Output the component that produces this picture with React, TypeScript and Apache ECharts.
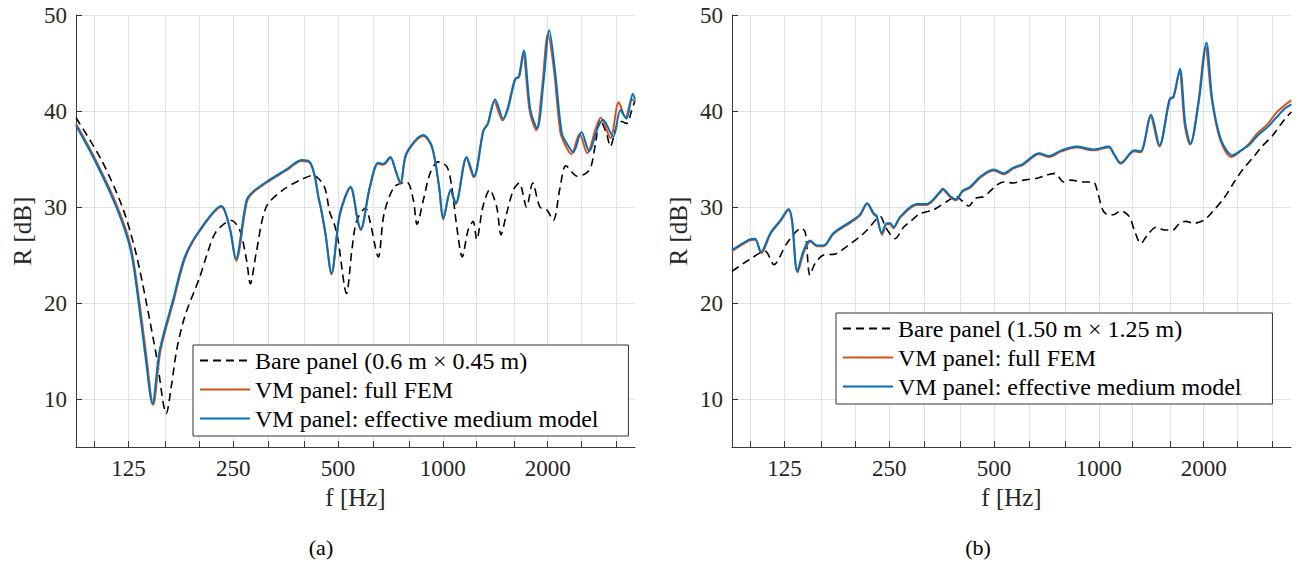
import React, { useEffect, useRef } from 'react';
import * as echarts from 'echarts';

const FONT = "'Liberation Serif', 'Times New Roman', serif";

// third-octave tick positions and labelled ticks (Hz)
const thirdOctaveTicks = [100, 125, 160, 200, 250, 315, 400, 500, 630, 800, 1000, 1250, 1600, 2000, 2500, 3150];
const xTickLabels = [125, 250, 500, 1000, 2000];
const yTicks = [10, 20, 30, 40, 50];

const nameBareA = 'Bare panel (0.6 m × 0.45 m)';
const nameBareB = 'Bare panel (1.50 m × 1.25 m)';
const nameFem = 'VM panel: full FEM';
const nameEm = 'VM panel: effective medium model';

// Panel (a): [frequency Hz, R dB]
const a_bare: [number, number][] = [[88.4,39.3],[104.6,34.9],[120.1,30.0],[130.8,25.5],[140.3,20.3],[150.6,14.4],[160.6,8.5],[166.5,11.6],[172,15.1],[181.5,18.6],[200.4,22.7],[210,25.0],[223,27.4],[247,28.6],[261,27.6],[273,24.5],[280,22.0],[291,25.2],[311,30.0],[348,31.8],[389,32.8],[424,33.3],[457,32.1],[473,29.5],[489,28.1],[500,26.6],[529,21.0],[548,25.5],[566,28.6],[600,29.9],[617,28.6],[653,24.8],[678,29.3],[726,32.1],[788,32.6],[823,30.7],[843,28.2],[879,30.7],[919,33.5],[969,34.7],[1027,34.2],[1061,32.1],[1097,27.9],[1137,24.8],[1182,27.6],[1222,28.5],[1251,26.6],[1303,30.0],[1363,31.8],[1428,30.0],[1469,27.1],[1524,29.3],[1595,31.8],[1657,32.5],[1740,30.0],[1812,32.5],[1900,30.0],[1989,29.7],[2076,28.6],[2173,32.1],[2256,34.3],[2434,33.2],[2576,33.5],[2665,34.2],[2755,37.0],[2826,39.1],[2950,37.7],[3027,36.3],[3154,38.4],[3262,38.9],[3374,38.7],[3489,40.1],[3564,41.1]];

const a_fem: [number, number][] = [[88.4,38.7],[100,35.1],[115.4,30.3],[126.9,25.9],[135,19.6],[140.3,14.9],[147.3,9.4],[154.5,15.0],[168.5,20.2],[182,24.7],[200.4,27.5],[231,30.0],[244.5,27.8],[255,24.4],[273.5,30.5],[285,31.5],[311,32.5],[355,33.8],[393,34.8],[415,34.6],[429,33.1],[439,31.0],[446,29.9],[460,27.2],[479,23.0],[506,29.1],[543,32.0],[570,28.5],[581,27.6],[617,32.0],[652,34.5],[675,34.4],[707,35.1],[731,33.8],[756,32.4],[786,35.5],[879,37.4],[931,36.2],[976,32.0],[1002,28.7],[1053,31.7],[1088,30.3],[1168,35.1],[1226,33.1],[1305,37.9],[1344,38.6],[1405,41.0],[1485,39.0],[1532,40.2],[1610,43.3],[1650,43.5],[1700,46.0],[1776,40.0],[1855,38.0],[1930,42.6],[2003,48.0],[2082,44.5],[2175,37.8],[2250,36.4],[2339,35.5],[2470,37.6],[2600,35.6],[2745,38.1],[2840,39.3],[3030,37.2],[3200,40.9],[3350,39.3],[3490,41.2],[3564,41.0]];

const a_em: [number, number][] = [[88.4,38.5],[100,34.9],[115.4,30.0],[126.9,25.5],[135,18.9],[140.3,14.1],[146.5,9.5],[153.8,15.1],[167.9,20.3],[181.5,24.8],[200.4,27.6],[231,30.1],[244,27.9],[254.5,24.6],[273,30.7],[285,31.6],[311,32.6],[355,33.9],[393,34.9],[415,34.7],[429,33.2],[439,31.1],[446,30.0],[460,27.3],[479,23.1],[506,29.3],[543,32.1],[570,28.6],[581,27.7],[617,32.1],[652,34.6],[675,34.5],[707,35.2],[731,33.9],[756,32.5],[786,35.6],[879,37.5],[931,36.3],[976,32.1],[1004,28.8],[1053,31.8],[1090,30.4],[1171,35.2],[1230,33.2],[1309,38.0],[1348,38.7],[1413,41.2],[1492,39.2],[1540,40.3],[1617,43.4],[1658,43.6],[1708,46.3],[1784,40.1],[1867,38.2],[1945,42.9],[2021,48.4],[2098,44.3],[2196,37.7],[2272,36.6],[2370,35.7],[2500,37.8],[2633,35.8],[2782,38.2],[2884,39.1],[3085,37.3],[3236,40.1],[3366,39.2],[3513,41.8],[3564,41.2]];

// Panel (b)
const b_bare: [number, number][] = [[88.4,23.3],[99,24.5],[110,25.4],[116.6,24.0],[127,26.2],[140,27.8],[143.6,27.3],[148,22.9],[153,24.1],[162,25.0],[175,25.1],[189,25.9],[206,26.9],[216,27.6],[236,29.0],[244,27.9],[260,26.7],[275,27.9],[288,28.5],[306,29.3],[335,29.7],[367,30.6],[389,31.1],[406,30.6],[423,30.1],[442,30.9],[468,31.1],[510,32.3],[533,32.6],[568,32.5],[608,32.8],[664,33.0],[704,33.3],[748,33.5],[793,32.6],[831,32.8],[904,32.6],[965,32.6],[988,31.8],[1026,29.7],[1062,29.2],[1103,29.2],[1156,29.6],[1224,29.0],[1264,27.6],[1320,26.2],[1380,27.1],[1461,27.9],[1544,27.6],[1630,27.6],[1705,28.3],[1781,28.5],[1864,28.3],[2000,28.6],[2119,29.5],[2285,30.9],[2448,32.6],[2591,33.9],[2808,35.4],[2939,36.3],[3148,37.4],[3410,39.1],[3572,39.9]];

const b_fem: [number, number][] = [[88.4,25.4],[99,26.5],[103,26.6],[107.5,25.2],[114,27.2],[121.7,28.5],[128.6,29.7],[131.5,28.5],[136.5,23.2],[142.5,25.4],[148.5,26.4],[155,25.9],[162,25.9],[173,27.2],[194,28.4],[206,29.1],[216,30.3],[226,29.2],[230,29.0],[238.5,27.1],[246,28.2],[252,28.2],[257,27.8],[269,28.9],[300,30.2],[320,30.2],[350,31.5],[356,31.8],[375,31.0],[389,30.7],[406,31.6],[427,32.0],[458,33.1],[499,33.8],[533,33.4],[568,34.0],[606,34.4],[673,35.5],[720,35.2],[781,35.8],[863,36.2],[965,35.9],[1069,36.2],[1103,35.5],[1156,34.5],[1264,35.8],[1318,35.7],[1408,39.4],[1490,36.3],[1595,41.2],[1636,41.4],[1703,44.1],[1765,38.5],[1828,36.5],[1930,40.9],[2025,46.7],[2108,41.3],[2232,37.0],[2400,35.2],[2550,35.8],[2700,36.6],[2855,37.7],[3050,38.6],[3230,39.8],[3420,40.6],[3572,41.1]];

const b_em: [number, number][] = [[88.4,25.5],[99,26.6],[103,26.7],[107,25.3],[114,27.3],[121.7,28.6],[128.6,29.8],[131.5,28.6],[136,23.3],[142,25.5],[148,26.5],[155,26.0],[162,26.0],[173,27.3],[194,28.5],[206,29.2],[216,30.4],[226,29.3],[230,29.1],[238,27.3],[246,28.3],[252,28.3],[257,27.9],[269,29.0],[300,30.3],[320,30.3],[350,31.6],[356,31.9],[375,31.1],[389,30.8],[406,31.7],[427,32.1],[458,33.2],[499,33.9],[533,33.5],[568,34.1],[606,34.5],[673,35.6],[720,35.3],[781,35.9],[863,36.3],[965,36.0],[1069,36.3],[1103,35.6],[1156,34.6],[1264,35.9],[1318,35.8],[1413,39.6],[1495,36.4],[1601,41.3],[1641,41.5],[1710,44.4],[1771,38.7],[1834,36.6],[1939,41.1],[2038,47.1],[2119,41.1],[2244,37.0],[2420,35.4],[2562,35.9],[2711,36.5],[2868,37.5],[3070,38.4],[3249,39.4],[3438,40.3],[3572,40.7]];

const AXIS_COLOR = '#3a3a3a';
const TEXT_COLOR = '#262626';
const GRID_COLOR = '#e2e2e2';

function makeX(gridIndex: number) {
  return {
    type: 'log', logBase: 10, gridIndex, min: 88.4, max: 3564,
    name: 'f [Hz]', nameLocation: 'middle', nameGap: 35,
    nameTextStyle: { fontFamily: FONT, fontSize: 25, color: TEXT_COLOR },
    axisLine: { show: true, onZero: false, lineStyle: { color: AXIS_COLOR, width: 1 } },
    axisTick: { show: true, inside: true, length: 6, customValues: thirdOctaveTicks, lineStyle: { color: AXIS_COLOR } },
    axisLabel: {
      show: true, customValues: xTickLabels, margin: 10, fontFamily: FONT, fontSize: 23, color: TEXT_COLOR,
      formatter: (v: number) => String(Math.round(v)),
    },
    splitLine: { show: true, lineStyle: { color: GRID_COLOR, width: 1 } },
    minorTick: { show: false }, minorSplitLine: { show: false },
  };
}

function makeY(gridIndex: number) {
  return {
    type: 'value', gridIndex, min: 5, max: 50,
    name: 'R [dB]', nameLocation: 'middle', nameGap: 41,
    nameTextStyle: { fontFamily: FONT, fontSize: 25, color: TEXT_COLOR },
    axisLine: { show: true, onZero: false, lineStyle: { color: AXIS_COLOR, width: 1 } },
    axisTick: { show: true, inside: true, length: 6, customValues: yTicks, lineStyle: { color: AXIS_COLOR } },
    axisLabel: { show: true, customValues: yTicks, margin: 9, fontFamily: FONT, fontSize: 23, color: TEXT_COLOR },
    splitLine: { show: true, lineStyle: { color: GRID_COLOR, width: 1 } },
  };
}

function line(name: string, data: [number, number][], idx: number, color: string, width: number, dashed: boolean, z: number) {
  return {
    type: 'line', name, data, xAxisIndex: idx, yAxisIndex: idx,
    symbol: 'none', smooth: 0.3, z,
    itemStyle: { color },
    lineStyle: { color, width, type: dashed ? [8, 5] : 'solid' },
    emphasis: { disabled: true },
  };
}

function makeLegend(names: string[], left: number, top: number, rightPad: number) {
  return {
    orient: 'vertical', left, top, itemWidth: 50, itemHeight: 14, itemGap: 0,
    padding: [1, rightPad, 3, 6],
    backgroundColor: '#ffffff', borderColor: '#333333', borderWidth: 1, borderRadius: 0,
    data: names, selectedMode: false,
    itemStyle: { opacity: 0 },
    textStyle: { fontFamily: FONT, fontSize: 24, color: '#000', lineHeight: 29 },
  };
}

const BLACK = '#000000';
const ORANGE = '#D95319';
const BLUE = '#0072BD';

const option = {
  animation: false,
  backgroundColor: '#ffffff',
  textStyle: { fontFamily: FONT },
  grid: [
    { left: 76, top: 15, width: 559, height: 432 },
    { left: 732, top: 15, width: 559, height: 432 },
  ],
  xAxis: [makeX(0), makeX(1)],
  yAxis: [makeY(0), makeY(1)],
  legend: [
    makeLegend([nameBareA, nameFem, nameEm], 193, 345, 30),
    makeLegend([nameBareB, nameFem, nameEm], 836, 313, 31),
  ],
  series: [
    line(nameBareA, a_bare, 0, BLACK, 1.6, true, 2),
    line(nameFem, a_fem, 0, ORANGE, 2, false, 3),
    line(nameEm, a_em, 0, BLUE, 2, false, 4),
    line(nameBareB, b_bare, 1, BLACK, 1.6, true, 2),
    line(nameFem, b_fem, 1, ORANGE, 2, false, 3),
    line(nameEm, b_em, 1, BLUE, 2, false, 4),
  ],
  graphic: [
    { type: 'text', x: 321, y: 547, style: { text: '(a)', fontSize: 22, fontFamily: FONT, fill: '#000', align: 'center', verticalAlign: 'middle' } },
    { type: 'text', x: 978, y: 547, style: { text: '(b)', fontSize: 22, fontFamily: FONT, fill: '#000', align: 'center', verticalAlign: 'middle' } },
  ],
};

export default function App() {
  const ref = useRef<HTMLDivElement>(null);
  useEffect(() => {
    const chart = echarts.init(ref.current!, null, { renderer: 'svg' });
    chart.setOption(option as any);
    return () => chart.dispose();
  }, []);
  return <div ref={ref} style={{ position: 'absolute', left: 0, top: 0, width: 1296, height: 564 }} />;
}
